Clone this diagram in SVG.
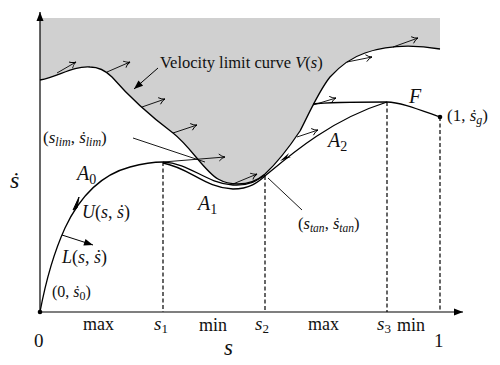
<svg xmlns="http://www.w3.org/2000/svg" width="500" height="365" viewBox="0 0 500 365">
<style>
.c{fill:none;stroke:#000;stroke-width:1.3}
.t{fill:none;stroke:#000;stroke-width:0.9}
.d{fill:none;stroke:#000;stroke-width:1.2;stroke-dasharray:4,2.5}
.a{fill:none;stroke:#000;stroke-width:0.9;marker-end:url(#open)}
text{font-family:"Liberation Serif","DejaVu Serif",serif;fill:#111}
.m{font-style:italic}
</style>
<defs>
<marker id="open" markerUnits="userSpaceOnUse" markerWidth="12" markerHeight="10" viewBox="-8 -5 10 10" refX="0" refY="0" orient="auto">
<path d="M-6,-3.5 Q-3,-0.5 0,0 Q-3,0.5 -6,3.5" fill="none" stroke="#000" stroke-width="0.9"/>
</marker>
<marker id="fill" markerUnits="userSpaceOnUse" markerWidth="14" markerHeight="10" viewBox="-10 -5 12 10" refX="0" refY="0" orient="auto">
<path d="M-9,-3.5 L0,0 L-9,3.5 Z" fill="#000"/>
</marker>
</defs>

<g id="region">
<path d="M40,18 L440,18 L440,49 C410,44 385,46 365,53 C350,58 340,66 330,77 C318,92 306,120 300,131 C290,146 278,162 265,174 C258,180 250,184 238,184 C230,184 225,183 218,179 C205,172 190,146 173,133 C145,112 125,92 112,77 C106,71 100,67 90,67 C72,66 60,76 40,80 Z" fill="#d0d0d0"/>
</g>

<g id="axes">
<line x1="40" y1="312" x2="40" y2="12" stroke="#000" stroke-width="1.2" marker-end="url(#fill)"/>
<line x1="40" y1="312" x2="463" y2="312" stroke="#000" stroke-width="1.2" marker-end="url(#fill)"/>
<circle cx="40" cy="312" r="2.3" fill="#000"/>
</g>

<g id="velocity-limit">
<path class="c" d="M40,80 C60,76 72,66 90,67 C100,67 106,71 112,77 C125,92 145,112 173,133 C190,146 205,172 218,179 C225,183 230,184 238,184 C250,184 258,180 265,174 C278,162 290,146 300,131 C306,120 318,92 330,77 C340,66 350,58 365,53 C385,46 410,44 440,49"/>
</g>

<g id="connectors">
<line class="a" x1="57" y1="73" x2="76" y2="62"/>
<line class="a" x1="107" y1="72" x2="130" y2="62"/>
<line class="a" x1="142" y1="107" x2="165" y2="99"/>
<line class="a" x1="173" y1="133" x2="197" y2="125"/>
<line class="a" x1="233" y1="184" x2="257" y2="174"/>
<line class="a" x1="297" y1="137" x2="318" y2="130"/>
<line class="a" x1="313" y1="105" x2="336" y2="98"/>
<line class="a" x1="347" y1="62" x2="372" y2="57"/>
<line class="a" x1="393" y1="47" x2="418" y2="38"/>
<line class="a" x1="163" y1="162" x2="225" y2="157"/>
<line class="t" x1="133" y1="138" x2="205" y2="162"/>
<line class="t" x1="302" y1="210" x2="268" y2="178"/>
<line x1="158" y1="68" x2="134" y2="89" stroke="#000" stroke-width="1" marker-end="url(#fill)"/>
<line x1="62" y1="235" x2="93" y2="245" stroke="#000" stroke-width="1" marker-end="url(#fill)"/>
</g>

<g id="A0">
<path class="c" d="M40,312 C46,280 55,250 65,228 C80,196 100,175 130,167 C145,163 155,162 163,162"/>
<path d="M79,197 L73,210 L77,208 Z" fill="#000" stroke="#000" stroke-width="1"/>
</g>

<g id="A1">
<path class="c" d="M163,162 C190,163 205,183 233,185 C250,186 258,180 265,175"/>
<path class="c" d="M163,163 C190,168 205,188 233,189 C250,189 258,182 265,176"/>
</g>

<g id="A2">
<path class="c" d="M265,176 C290,155 330,120 387,102"/>
<path d="M280,161 L289,153 L287,157 L291,157 Z" fill="#000"/>
</g>

<g id="F">
<path class="c" d="M313,104 C330,102 370,102 387,102 C400,102 420,110 440,117"/>
<circle cx="440" cy="117" r="2.3" fill="#000"/>
</g>

<g id="dashes">
<line class="d" x1="163" y1="162" x2="163" y2="312"/>
<line class="d" x1="265" y1="176" x2="265" y2="312"/>
<line class="d" x1="387" y1="102" x2="387" y2="312"/>
<line class="d" x1="440" y1="117" x2="440" y2="312"/>
</g>

<g id="labels">
<text x="160" y="68" font-size="16.5">Velocity limit curve <tspan class="m">V</tspan>(<tspan class="m">s</tspan>)</text>
<text x="43" y="143" font-size="17">(<tspan class="m">s<tspan font-size="12" dy="3">lim</tspan></tspan><tspan dy="-3">, </tspan><tspan class="m">ṡ<tspan font-size="12" dy="3">lim</tspan></tspan><tspan dy="-3">)</tspan></text>
<text x="77" y="180" font-size="20" class="m">A<tspan font-size="14" dy="4" font-style="normal">0</tspan></text>
<text x="198" y="210" font-size="20" class="m">A<tspan font-size="14" dy="4" font-style="normal">1</tspan></text>
<text x="328" y="147" font-size="20" class="m">A<tspan font-size="14" dy="4" font-style="normal">2</tspan></text>
<text x="409" y="103" font-size="20" class="m">F</text>
<text x="447" y="121" font-size="17">(1, <tspan class="m">ṡ<tspan font-size="12" dy="3">g</tspan></tspan><tspan dy="-3">)</tspan></text>
<text x="82" y="218" font-size="18"><tspan class="m">U</tspan>(<tspan class="m">s</tspan>, <tspan class="m">ṡ</tspan>)</text>
<text x="62" y="263" font-size="18"><tspan class="m">L</tspan>(<tspan class="m">s</tspan>, <tspan class="m">ṡ</tspan>)</text>
<text x="52" y="297" font-size="16">(0, <tspan class="m">ṡ</tspan><tspan font-size="12" dy="3">0</tspan><tspan dy="-3">)</tspan></text>
<text x="298" y="229" font-size="16.5">(<tspan class="m">s<tspan font-size="11.5" dy="3">tan</tspan></tspan><tspan dy="-3">, </tspan><tspan class="m">ṡ<tspan font-size="11.5" dy="3">tan</tspan></tspan><tspan dy="-3">)</tspan></text>
<text x="10" y="188" font-size="24" class="m">ṡ</text>
<text x="34" y="347" font-size="19">0</text>
<text x="434" y="347" font-size="19">1</text>
<text x="83" y="330" font-size="18">max</text>
<text x="199" y="331" font-size="18">min</text>
<text x="308" y="330" font-size="18">max</text>
<text x="397" y="331" font-size="18">min</text>
<text x="154" y="330" font-size="19" class="m">s<tspan font-size="13" dy="3" font-style="normal">1</tspan></text>
<text x="255" y="330" font-size="19" class="m">s<tspan font-size="13" dy="3" font-style="normal">2</tspan></text>
<text x="377" y="330" font-size="19" class="m">s<tspan font-size="13" dy="3" font-style="normal">3</tspan></text>
<text x="224" y="355" font-size="23" class="m">s</text>
</g>
</svg>
